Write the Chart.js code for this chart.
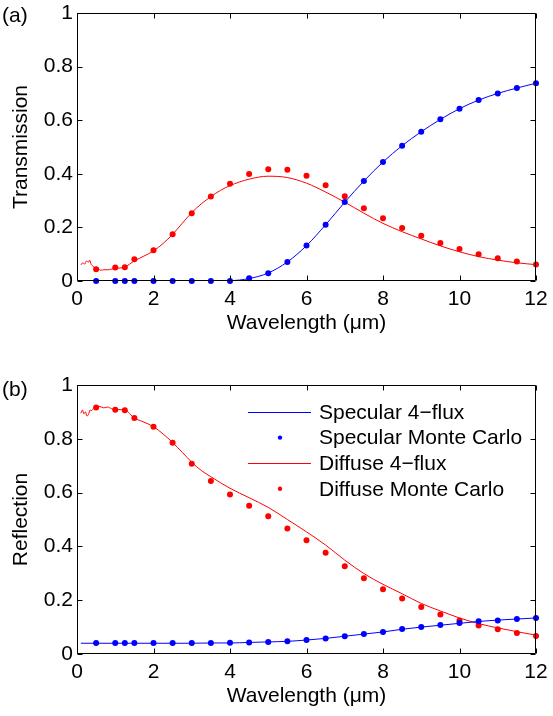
<!DOCTYPE html>
<html>
<head>
<meta charset="utf-8">
<script src="https://cdn.jsdelivr.net/npm/chart.js@4.4.1/dist/chart.umd.min.js"></script>
<style>
  body { margin: 0; background: #fff; }
  #wrap { position: relative; width: 553px; height: 716px; font-family: 'Liberation Sans', Arial, sans-serif; }
  canvas { position: absolute; left: 0; }
  .tag { position: absolute; left: 2px; font-size: 21px; line-height: 24px; color: #000; }
</style>
</head>
<body>
<div id="wrap">
  <canvas id="trans" width="553" height="358" style="top:0"></canvas>
  <canvas id="refl" width="553" height="358" style="top:358px"></canvas>
  <div class="tag" style="top:3px">(a)</div>
  <div class="tag" style="top:377px">(b)</div>
</div>
<script>
// Monte Carlo sample wavelengths (um)
const mcWavelength = [0.5, 1, 1.25, 1.5, 2, 2.5, 3, 3.5, 4, 4.5, 5, 5.5, 6, 6.5, 7, 7.5, 8, 8.5, 9, 9.5, 10, 10.5, 11, 11.5, 12];

// (a) transmission
const transSpecularMC = [0, 0, 0, 0, 0, 0, 0, 0, 0, 0.010, 0.029, 0.071, 0.132, 0.210, 0.295, 0.373, 0.444, 0.505, 0.557, 0.604, 0.643, 0.675, 0.700, 0.720, 0.738];
const transDiffuseMC = [0.044, 0.050, 0.051, 0.081, 0.115, 0.174, 0.253, 0.315, 0.363, 0.399, 0.417, 0.415, 0.393, 0.357, 0.316, 0.271, 0.234, 0.198, 0.169, 0.142, 0.119, 0.100, 0.085, 0.073, 0.062];

const specLineWavelength = [0.1, 0.5, 1, 1.5, 2, 2.5, 3, 3.5, 4, 4.5, 5, 5.5, 6, 6.5, 7, 7.5, 8, 8.5, 9, 9.5, 10, 10.5, 11, 11.5, 12];
const transSpecular4flux = [0, 0, 0, 0, 0, 0, 0, 0, 0.001, 0.009, 0.030, 0.071, 0.132, 0.210, 0.294, 0.373, 0.444, 0.505, 0.557, 0.603, 0.643, 0.675, 0.700, 0.720, 0.738];

const transDiffLineWavelength = [0.10, 0.15, 0.20, 0.25, 0.30, 0.33, 0.37, 0.42, 0.47, 0.52, 0.57, 0.62, 0.70, 0.80, 0.90, 1.00, 1.25, 1.50, 1.75, 2.00, 2.25, 2.50, 2.75, 3.00, 3.25, 3.50, 3.75, 4.00, 4.50, 5.00, 5.50, 6.00, 6.50, 7.00, 7.50, 8.00, 8.50, 9.00, 9.50, 10.00, 10.50, 11.00, 11.50, 12.00];
const transDiffuse4flux = [0.060, 0.068, 0.063, 0.075, 0.070, 0.078, 0.062, 0.055, 0.048, 0.042, 0.044, 0.040, 0.042, 0.042, 0.044, 0.047, 0.052, 0.075, 0.093, 0.112, 0.140, 0.174, 0.215, 0.255, 0.288, 0.315, 0.338, 0.356, 0.380, 0.391, 0.386, 0.365, 0.332, 0.294, 0.253, 0.215, 0.184, 0.157, 0.131, 0.109, 0.091, 0.078, 0.068, 0.061];

// (b) reflection
const reflSpecularMC = [0.041, 0.041, 0.041, 0.041, 0.041, 0.041, 0.041, 0.041, 0.042, 0.043, 0.045, 0.047, 0.052, 0.058, 0.066, 0.074, 0.082, 0.093, 0.100, 0.108, 0.115, 0.122, 0.125, 0.130, 0.134];
const reflDiffuseMC = [0.916, 0.908, 0.906, 0.877, 0.845, 0.785, 0.707, 0.643, 0.593, 0.551, 0.512, 0.467, 0.423, 0.376, 0.326, 0.282, 0.241, 0.206, 0.175, 0.147, 0.125, 0.106, 0.092, 0.078, 0.067];

const reflSpecular4flux = [0.040, 0.040, 0.040, 0.040, 0.040, 0.040, 0.040, 0.041, 0.041, 0.043, 0.045, 0.047, 0.052, 0.058, 0.066, 0.074, 0.082, 0.092, 0.100, 0.107, 0.114, 0.121, 0.126, 0.130, 0.134];

const reflDiffLineWavelength = [0.10, 0.14, 0.18, 0.22, 0.26, 0.30, 0.34, 0.38, 0.43, 0.50, 0.60, 0.70, 0.80, 0.90, 1.00, 1.25, 1.50, 1.75, 2.00, 2.25, 2.50, 2.75, 3.00, 3.25, 3.50, 4.00, 4.50, 5.00, 5.50, 6.00, 6.50, 7.00, 7.50, 8.00, 8.50, 9.00, 9.50, 10.00, 10.50, 11.00, 11.50, 12.00];
const reflDiffuse4flux = [0.895, 0.907, 0.893, 0.900, 0.885, 0.890, 0.907, 0.905, 0.913, 0.918, 0.920, 0.915, 0.918, 0.912, 0.909, 0.907, 0.877, 0.862, 0.845, 0.818, 0.786, 0.750, 0.713, 0.682, 0.659, 0.616, 0.581, 0.545, 0.500, 0.454, 0.405, 0.349, 0.299, 0.259, 0.224, 0.188, 0.160, 0.134, 0.113, 0.097, 0.083, 0.070];

const FONT = "'Liberation Sans', Arial, sans-serif";
const FONT_SIZE = 21;
const BLUE = '#0000ff';
const RED = '#ff0000';

const toPoints = (xs, ys) => xs.map((x, i) => ({ x: x, y: ys[i] }));

const lineSet = (label, xs, ys, color) => ({
  label: label,
  data: toPoints(xs, ys),
  showLine: true,
  borderColor: color,
  borderWidth: 1,
  pointRadius: 0,
  cubicInterpolationMode: 'monotone',
  order: 1,
});

const dotSet = (label, xs, ys, color) => ({
  label: label,
  data: toPoints(xs, ys),
  showLine: false,
  backgroundColor: color,
  borderWidth: 0,
  pointRadius: 3,
  clip: false,
  order: 0,
});

// box + inward ticks on all four sides, like the original
const frameTicks = {
  id: 'frameTicks',
  afterDatasetsDraw(chart) {
    const { ctx, chartArea: a, scales } = chart;
    const L = Math.round(a.left) + 0.5, R = Math.round(a.right) - 0.5;
    const T = Math.round(a.top) + 0.5, B = Math.round(a.bottom) - 0.5;
    ctx.save();
    ctx.strokeStyle = '#000';
    ctx.lineWidth = 1;
    ctx.beginPath();
    scales.x.ticks.forEach(t => {
      const px = Math.round(scales.x.getPixelForValue(t.value)) + 0.5;
      ctx.moveTo(px, B); ctx.lineTo(px, B - 5);
      ctx.moveTo(px, T); ctx.lineTo(px, T + 5);
    });
    scales.y.ticks.forEach(t => {
      const py = Math.round(scales.y.getPixelForValue(t.value)) + 0.5;
      ctx.moveTo(L, py); ctx.lineTo(L + 5, py);
      ctx.moveTo(R, py); ctx.lineTo(R - 5, py);
    });
    ctx.rect(L, T, R - L, B - T);
    ctx.stroke();
    ctx.restore();
  }
};

// legend drawn inside the plot of panel (b)
const insideLegend = {
  id: 'insideLegend',
  afterDraw(chart) {
    const ctx = chart.ctx;
    ctx.save();
    ctx.font = FONT_SIZE + 'px ' + FONT;
    ctx.textBaseline = 'middle';
    ctx.textAlign = 'left';
    chart.data.datasets.forEach((ds, i) => {
      const rowY = 54 + i * 25.6;
      if (ds.showLine) {
        ctx.strokeStyle = ds.borderColor;
        ctx.lineWidth = 1;
        ctx.beginPath();
        ctx.moveTo(248, Math.round(rowY) + 0.5);
        ctx.lineTo(311, Math.round(rowY) + 0.5);
        ctx.stroke();
      } else {
        ctx.fillStyle = ds.backgroundColor;
        ctx.beginPath();
        ctx.arc(280, rowY, 2.2, 0, Math.PI * 2);
        ctx.fill();
      }
      ctx.fillStyle = '#000';
      ctx.fillText(ds.label, 319, rowY + 1);
    });
    ctx.restore();
  }
};

function makeScales(yTitle) {
  const tickFont = { family: FONT, size: FONT_SIZE };
  return {
    x: {
      type: 'linear', min: 0, max: 12,
      ticks: { stepSize: 2, color: '#000', font: tickFont, padding: 6, maxRotation: 0, autoSkip: false },
      grid: { display: false, drawTicks: false },
      border: { display: false },
      title: { display: true, text: 'Wavelength (μm)', color: '#000', font: tickFont, padding: 0 },
      afterFit(s) { s.height = 55; s.paddingLeft = 0; s.paddingRight = 0; },
    },
    y: {
      type: 'linear', min: 0, max: 1,
      ticks: { stepSize: 0.2, color: '#000', font: tickFont, padding: 4, callback: v => String(Number(v.toFixed(1))) },
      grid: { display: false, drawTicks: false },
      border: { display: false },
      title: { display: true, text: yTitle, color: '#000', font: tickFont, padding: 0 },
      afterFit(s) { s.width = 68; s.paddingTop = 0; s.paddingBottom = 0; },
    },
  };
}

const commonOptions = (yTitle, padTop, padBottom) => ({
  responsive: false,
  animation: false,
  devicePixelRatio: 1,
  layout: { padding: { left: 9, right: 17, top: padTop, bottom: padBottom } },
  plugins: { legend: { display: false }, tooltip: { enabled: false } },
  scales: makeScales(yTitle),
});

new Chart(document.getElementById('trans'), {
  type: 'scatter',
  data: {
    datasets: [
      lineSet('Specular 4−flux', specLineWavelength, transSpecular4flux, BLUE),
      dotSet('Specular Monte Carlo', mcWavelength, transSpecularMC, BLUE),
      lineSet('Diffuse 4−flux', transDiffLineWavelength, transDiffuse4flux, RED),
      dotSet('Diffuse Monte Carlo', mcWavelength, transDiffuseMC, RED),
    ],
  },
  options: commonOptions('Transmission', 13, 22),
  plugins: [frameTicks],
});

new Chart(document.getElementById('refl'), {
  type: 'scatter',
  data: {
    datasets: [
      lineSet('Specular 4−flux', specLineWavelength, reflSpecular4flux, BLUE),
      dotSet('Specular Monte Carlo', mcWavelength, reflSpecularMC, BLUE),
      lineSet('Diffuse 4−flux', reflDiffLineWavelength, reflDiffuse4flux, RED),
      dotSet('Diffuse Monte Carlo', mcWavelength, reflDiffuseMC, RED),
    ],
  },
  options: commonOptions('Reflection', 27, 7),
  plugins: [frameTicks, insideLegend],
});
</script>
</body>
</html>
